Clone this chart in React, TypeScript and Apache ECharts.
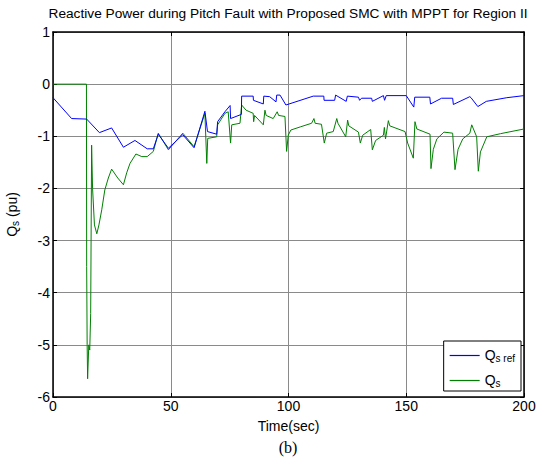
import React, { useEffect, useRef } from "react";
import * as echarts from "echarts";

const titleText = "Reactive Power during Pitch Fault with Proposed SMC with MPPT for Region II";
const xTicks = { min: 0, max: 200, interval: 50 };
const yTicks = { min: -6, max: 1, interval: 1 };

const qsRef: [number, number][] = [
  [0, -0.26], [7.9, -0.66], [14.3, -0.67], [19.7, -0.93], [24.9, -0.84], [29.9, -1.21],
  [34.8, -1.08], [40, -1.24], [42.6, -1.24], [44.7, -0.96], [49, -1.23], [55.1, -0.97],
  [59.9, -1.22], [64.5, -0.52], [65.6, -0.91], [69.5, -0.96], [69.9, -0.72], [73, -0.53],
  [75.2, -0.41], [75.4, -0.66], [80.0, -0.58], [80.1, -0.23], [85, -0.23], [85.1, -0.31],
  [89.3, -0.38], [89.5, -0.23], [92, -0.24], [94.7, -0.34], [95, -0.21], [96.4, -0.21],
  [98.9, -0.40], [110.5, -0.23], [115, -0.23], [115.1, -0.31], [119.6, -0.31], [120, -0.21],
  [124.5, -0.33], [125, -0.23], [129.7, -0.25], [130.2, -0.31], [131, -0.27], [135.3, -0.27],
  [135.6, -0.33], [140.3, -0.22], [140.8, -0.31], [141.5, -0.22], [150, -0.22], [153.2, -0.44],
  [153.6, -0.25], [160, -0.25], [160.3, -0.38], [165, -0.27], [169.7, -0.27], [170, -0.39],
  [177, -0.24], [177.5, -0.26], [180.4, -0.43], [184, -0.33], [192.7, -0.26], [200, -0.22],
];

const qs: [number, number][] = [
  [0, 0], [14.2, 0], [14.3, -3.5], [14.5, -5.0], [14.7, -5.65], [15.2, -5.0], [15.6, -5.1],
  [16.0, -4.4], [16.4, -1.17], [16.8, -2.0], [17.6, -2.7], [18.6, -2.87], [19.5, -2.7],
  [20.7, -2.41], [22, -2.03], [23.5, -1.8], [24.9, -1.63], [27.5, -1.8], [29.9, -1.93],
  [31.3, -1.7], [32.7, -1.52], [35.2, -1.34], [37.7, -1.39], [40, -1.39], [42.6, -1.29],
  [44.7, -0.94], [49, -1.26], [55.1, -0.94], [59.9, -1.2], [64.5, -0.56], [65.3, -1.52],
  [65.7, -1.04], [69.5, -1.01], [69.9, -0.78], [73, -0.56], [74.4, -0.53], [75.4, -1.13],
  [75.9, -0.78], [79.4, -0.75], [80.1, -0.40], [82, -0.5], [85, -0.56], [85.2, -0.72],
  [85.6, -0.6], [89.3, -0.78], [90, -0.5], [90.5, -0.6], [93.5, -0.66], [95.2, -0.53],
  [95.8, -0.6], [98.5, -0.62], [99.2, -1.29], [99.9, -0.98], [101, -0.88], [105, -0.82],
  [109.8, -0.75], [110.8, -0.66], [111.3, -0.75], [114, -0.77], [115.2, -1.13], [116.2, -0.94],
  [119, -0.91], [120.5, -0.66], [121, -0.75], [124.3, -1.01], [125.1, -0.69], [125.6, -0.8],
  [129.7, -0.92], [130.5, -1.13], [131.5, -0.98], [134.9, -0.87], [135.6, -1.26], [137, -1.08],
  [140.3, -0.98], [140.7, -0.83], [141.2, -1.05], [142.4, -0.7], [143, -0.8], [149.5, -0.91],
  [150.6, -1.13], [153, -1.42], [153.7, -0.72], [154.5, -0.86], [160.1, -0.96], [160.5, -1.62],
  [161.5, -1.25], [163, -1.05], [166, -0.92], [169.7, -0.94], [170.7, -1.64], [172, -1.25],
  [174, -1.05], [177, -0.94], [177.8, -0.78], [179.9, -1.01], [180.6, -1.67], [181.5, -1.3],
  [184.2, -1.01], [190, -0.95], [200, -0.86],
];

const FONT = "'Liberation Sans', Arial, sans-serif";

export default function App() {
  const ref = useRef<HTMLDivElement>(null);
  useEffect(() => {
    document.body.style.margin = "0";
    const chart = echarts.init(ref.current!, null, { renderer: "svg" });
    const subRich = {
      q: { fontSize: 14, fontFamily: FONT, color: "#000", lineHeight: 15, verticalAlign: "top" },
      s: { fontSize: 10, fontFamily: FONT, color: "#000", lineHeight: 10, verticalAlign: "bottom", padding: [9, 0, 0, 0] },
    };
    const commonX = { type: "value", min: xTicks.min, max: xTicks.max, interval: xTicks.interval };
    const commonY = { type: "value", min: yTicks.min, max: yTicks.max, interval: yTicks.interval };
    const tickStyle = { inside: true, length: 4, lineStyle: { color: "#000" } };
    const lineAx = { onZero: false, lineStyle: { color: "#000", width: 1.5 } };
    const grid = { show: true, lineStyle: { color: "#8a8a8a", width: 1 } };
    chart.setOption({
      animation: false,
      backgroundColor: "#fff",
      grid: { left: 53, right: 18, top: 32, bottom: 65, containLabel: false, outerBoundsMode: "none" },
      graphic: [
        {
          type: "text",
          x: 288,
          y: 13,
          style: { text: titleText, font: `13.7px ${FONT}`, fill: "#000", align: "center", verticalAlign: "middle" },
          z: 10,
        },
        {
          type: "text",
          x: 288,
          y: 447,
          style: { text: "(b)", font: "16px 'Liberation Serif', 'Times New Roman', serif", fill: "#000", align: "center", verticalAlign: "middle" },
        },
      ],
      legend: {
        orient: "vertical",
        right: 21,
        bottom: 71,
        backgroundColor: "#fff",
        borderColor: "#000",
        borderWidth: 1,
        borderRadius: 0,
        padding: [3, 6, 3, 6],
        itemWidth: 30,
        itemHeight: 1.2,
        itemGap: 6,
        formatter: (name: string) => (name === "Qs ref" ? "{q|Q}{s|s ref}" : "{q|Q}{s|s}"),
        textStyle: { rich: subRich },
        data: [
          { name: "Qs ref", icon: "rect", itemStyle: { color: "#0000ff", borderWidth: 0 } },
          { name: "Qs", icon: "rect", itemStyle: { color: "#008000", borderWidth: 0 } },
        ],
      },
      xAxis: [
        {
          ...commonX,
          position: "bottom",
          name: "Time(sec)",
          nameLocation: "middle",
          nameGap: 22,
          nameTextStyle: { fontSize: 14, fontFamily: FONT, color: "#000" },
          axisLine: lineAx,
          axisTick: tickStyle,
          axisLabel: { fontSize: 14, fontFamily: FONT, color: "#000", margin: 2 },
          splitLine: grid,
        },
        {
          ...commonX,
          position: "top",
          axisLine: lineAx,
          axisTick: tickStyle,
          axisLabel: { show: false },
          splitLine: { show: false },
        },
      ],
      yAxis: [
        {
          ...commonY,
          position: "left",
          name: "{q|Q}{s|s}{q| (pu)}",
          nameLocation: "middle",
          nameGap: 33,
          nameTextStyle: { rich: subRich },
          axisLine: lineAx,
          axisTick: tickStyle,
          axisLabel: { fontSize: 14, fontFamily: FONT, color: "#000", margin: 3 },
          splitLine: grid,
        },
        {
          ...commonY,
          position: "right",
          axisLine: lineAx,
          axisTick: tickStyle,
          axisLabel: { show: false },
          splitLine: { show: false },
        },
      ],
      series: [
        {
          name: "Qs ref",
          type: "line",
          xAxisIndex: 0,
          yAxisIndex: 0,
          data: qsRef,
          symbol: "none",
          lineStyle: { color: "#0000ff", width: 1 },
          itemStyle: { color: "#0000ff" },
          z: 3,
        },
        {
          name: "Qs",
          type: "line",
          xAxisIndex: 0,
          yAxisIndex: 0,
          data: qs,
          symbol: "none",
          lineStyle: { color: "#008000", width: 1 },
          itemStyle: { color: "#008000" },
          z: 2,
        },
      ],
    });
    return () => chart.dispose();
  }, []);
  return <div ref={ref} style={{ width: 542, height: 462 }} />;
}
